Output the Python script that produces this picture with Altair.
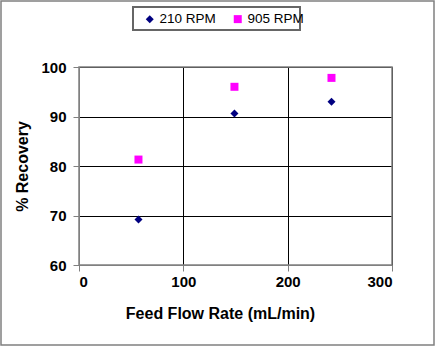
import altair as alt
import pandas as pd

flow = [57, 149, 242]
rec_210 = [69.2, 90.6, 93.0]
rec_905 = [81.3, 96.0, 97.8]
series = ["210 RPM", "905 RPM"]
x_ticks = [0, 100, 200, 300]
y_ticks = [60, 70, 80, 90, 100]

rows = []
for f, a, b in zip(flow, rec_210, rec_905):
    rows.append({"flow": f, "rec": a, "series": series[0]})
    rows.append({"flow": f, "rec": b, "series": series[1]})
df = pd.DataFrame(rows)

FONT = "Liberation Sans"
W, H = 313, 198
L, T = 79, 67

points = alt.Chart(df).mark_point(filled=True, opacity=1, size=64).encode(
    x=alt.X("flow:Q", scale=alt.Scale(domain=[0, 300], nice=False),
            axis=alt.Axis(values=x_ticks, title="Feed Flow Rate (mL/min)",
                          gridColor="black", gridWidth=1, grid=True,
                          domainColor="#808080", tickColor="#808080", tickSize=6,
                          labelFont=FONT, labelFontSize=15, labelFontWeight="bold",
                          labelColor="black", labelPadding=3,
                          titleFont=FONT, titleFontSize=16, titleFontWeight="bold",
                          titleColor="black", titleX=141, titleY=53,
                          titleBaseline="alphabetic")),
    y=alt.Y("rec:Q", scale=alt.Scale(domain=[60, 100], nice=False),
            axis=alt.Axis(values=y_ticks, title="% Recovery",
                          gridColor="black", gridWidth=1,
                          domainColor="#808080", tickColor="#808080", tickSize=6,
                          labelFont=FONT, labelFontSize=15, labelFontWeight="bold",
                          labelColor="black", labelPadding=7,
                          titleFont=FONT, titleFontSize=16, titleFontWeight="bold",
                          titleColor="black", titleAngle=-90, titleX=-52, titleY=99,
                          titleAlign="center", titleBaseline="alphabetic")),
    color=alt.Color("series:N", scale=alt.Scale(domain=series, range=["#000080", "#FF00FF"]),
                    legend=alt.Legend(title=None, orient="none", direction="horizontal",
                                      legendX=64, legendY=-55,
                                      labelFont=FONT, labelFontSize=13.5, labelColor="black",
                                      symbolSize=64, labelOffset=3, columnPadding=15,
                                      symbolStrokeWidth=0)),
    shape=alt.Shape("series:N", scale=alt.Scale(domain=series, range=["diamond", "square"]),
                    legend=None),
)

one = pd.DataFrame({"k": [0]})

plotbox = alt.Chart(one).mark_rect(
    fill=None, stroke="#808080", strokeWidth=1.5
).encode(x=alt.value(0), x2=alt.value(W), y=alt.value(0), y2=alt.value(H))

frame = alt.Chart(one).mark_rect(
    fill=None, stroke="#808080", strokeWidth=1.5
).encode(x=alt.value(-L + 1), x2=alt.value(434 - L), y=alt.value(-T + 1), y2=alt.value(345 - T))

legbox = alt.Chart(one).mark_rect(
    fill=None, stroke="#666666", strokeWidth=2
).encode(x=alt.value(133 - L), x2=alt.value(300 - L), y=alt.value(7 - T), y2=alt.value(30 - T))

chart = alt.layer(points, plotbox, frame, legbox).properties(
    width=W, height=H,
    padding={"left": L, "top": T, "right": 436 - L - W, "bottom": 347 - T - H},
    autosize=alt.AutoSizeParams(type="none"),
).configure_view(stroke=None).configure(background="white")

chart.save("out.html", embed_options={"renderer": "svg", "actions": False})
